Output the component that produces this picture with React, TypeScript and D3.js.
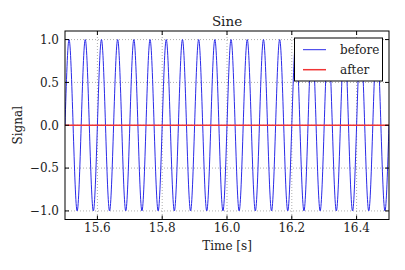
import React from "react";
import * as d3 from "d3";

const timeSamples = [
  15.5, 15.5125, 15.525, 15.5375, 15.55, 15.5625, 15.575, 15.5875,
  15.6, 15.6125, 15.625, 15.6375, 15.65, 15.6625, 15.675, 15.6875,
  15.7, 15.7125, 15.725, 15.7375, 15.75, 15.7625, 15.775, 15.7875,
  15.8, 15.8125, 15.825, 15.8375, 15.85, 15.8625, 15.875, 15.8875,
  15.9, 15.9125, 15.925, 15.9375, 15.95, 15.9625, 15.975, 15.9875,
  16.0, 16.0125, 16.025, 16.0375, 16.05, 16.0625, 16.075, 16.0875,
  16.1, 16.1125, 16.125, 16.1375, 16.15, 16.1625, 16.175, 16.1875,
  16.2, 16.2125, 16.225, 16.2375, 16.25, 16.2625, 16.275, 16.2875,
  16.3, 16.3125, 16.325, 16.3375, 16.35, 16.3625, 16.375, 16.3875,
  16.4, 16.4125, 16.425, 16.4375, 16.45, 16.4625, 16.475, 16.4875,
  16.5,
];

const beforeValues = [
  0, 1, 0, -1, 0, 1, 0, -1,
  0, 1, 0, -1, 0, 1, 0, -1,
  0, 1, 0, -1, 0, 1, 0, -1,
  0, 1, 0, -1, 0, 1, 0, -1,
  0, 1, 0, -1, 0, 1, 0, -1,
  0, 1, 0, -1, 0, 1, 0, -1,
  0, 1, 0, -1, 0, 1, 0, -1,
  0, 1, 0, -1, 0, 1, 0, -1,
  0, 1, 0, -1, 0, 1, 0, -1,
  0, 1, 0, -1, 0, 1, 0, -1,
  0,
];

const afterTimes = [15.5, 16.5];
const afterValues = [0, 0];

const xTicks = [15.6, 15.8, 16.0, 16.2, 16.4];
const yTicks = [-1.0, -0.5, 0.0, 0.5, 1.0];
const seriesNames = ["before", "after"];
const seriesColors = ["#2a2ae8", "#f03535"];

const FONT = "DejaVu Serif";

export default function App() {
  const left = 65, right = 389, top = 31, bottom = 219.5;
  const x = d3.scaleLinear().domain([15.5, 16.5]).range([left, right]);
  const y = d3.scaleLinear().domain([-1.1, 1.1]).range([bottom, top]);

  const beforeLine = d3
    .line<number>()
    .x((_, i) => x(timeSamples[i]))
    .y((d) => y(d))
    .curve(d3.curveNatural)(beforeValues) as string;

  const afterLine = d3
    .line<number>()
    .x((_, i) => x(afterTimes[i]))
    .y((d) => y(d))(afterValues) as string;

  const fmt = (v: number) => d3.format(".1f")(v).replace("-", "\u2212");
  const tickLen = 4;
  const fs = 12;

  return (
    <svg
      width={405}
      height={270}
      style={{ position: "absolute", left: 0, top: 0, background: "#fff" }}
      fontFamily={FONT}
    >
      <defs>
        <clipPath id="plot">
          <rect x={left} y={top} width={right - left} height={bottom - top} />
        </clipPath>
      </defs>
      <rect x={0} y={0} width={405} height={270} fill="#fff" />
      {xTicks.map((t) => (
        <line
          key={"gx" + t}
          x1={x(t)}
          x2={x(t)}
          y1={top}
          y2={bottom}
          stroke="#777"
          strokeWidth={0.6}
          strokeDasharray="1,2"
        />
      ))}
      {yTicks.map((t) => (
        <line
          key={"gy" + t}
          x1={left}
          x2={right}
          y1={y(t)}
          y2={y(t)}
          stroke="#777"
          strokeWidth={0.6}
          strokeDasharray="1,2"
        />
      ))}
      <g clipPath="url(#plot)">
        <path d={beforeLine} fill="none" stroke={seriesColors[0]} strokeWidth={1} />
        <path d={afterLine} fill="none" stroke={seriesColors[1]} strokeWidth={1.5} />
      </g>
      <rect x={left} y={top} width={right - left} height={bottom - top} fill="none" stroke="#000" strokeWidth={1} />
      {xTicks.map((t) => (
        <g key={"tx" + t}>
          <line x1={x(t)} x2={x(t)} y1={bottom} y2={bottom - tickLen} stroke="#000" />
          <line x1={x(t)} x2={x(t)} y1={top} y2={top + tickLen} stroke="#000" />
          <text x={x(t)} y={232} fontSize={fs} textAnchor="middle" fill="#222">
            {fmt(t)}
          </text>
        </g>
      ))}
      {yTicks.map((t) => (
        <g key={"ty" + t}>
          <line x1={left} x2={left + tickLen} y1={y(t)} y2={y(t)} stroke="#000" />
          <line x1={right} x2={right - tickLen} y1={y(t)} y2={y(t)} stroke="#000" />
          <text x={59} y={y(t)} dy="0.36em" fontSize={fs} textAnchor="end" fill="#222">
            {fmt(t)}
          </text>
        </g>
      ))}
      <text x={(left + right) / 2} y={25.5} fontSize={13.5} textAnchor="middle" fill="#222">
        Sine
      </text>
      <text x={(left + right) / 2} y={250} fontSize={fs} textAnchor="middle" fill="#222">
        Time [s]
      </text>
      <text
        transform={`translate(22,${(top + bottom) / 2}) rotate(-90)`}
        fontSize={fs}
        textAnchor="middle"
        fill="#222"
      >
        Signal
      </text>
      <rect x={294.5} y={38} width={88} height={43} fill="#fff" stroke="#000" strokeWidth={1} />
      {seriesNames.map((name, i) => (
        <g key={name}>
          <line
            x1={303}
            x2={326}
            y1={49.7 + i * 20}
            y2={49.7 + i * 20}
            stroke={seriesColors[i]}
            strokeWidth={i === 1 ? 1.5 : 1}
          />
          <text x={340} y={54 + i * 20} fontSize={fs} fill="#222">
            {name}
          </text>
        </g>
      ))}
    </svg>
  );
}
